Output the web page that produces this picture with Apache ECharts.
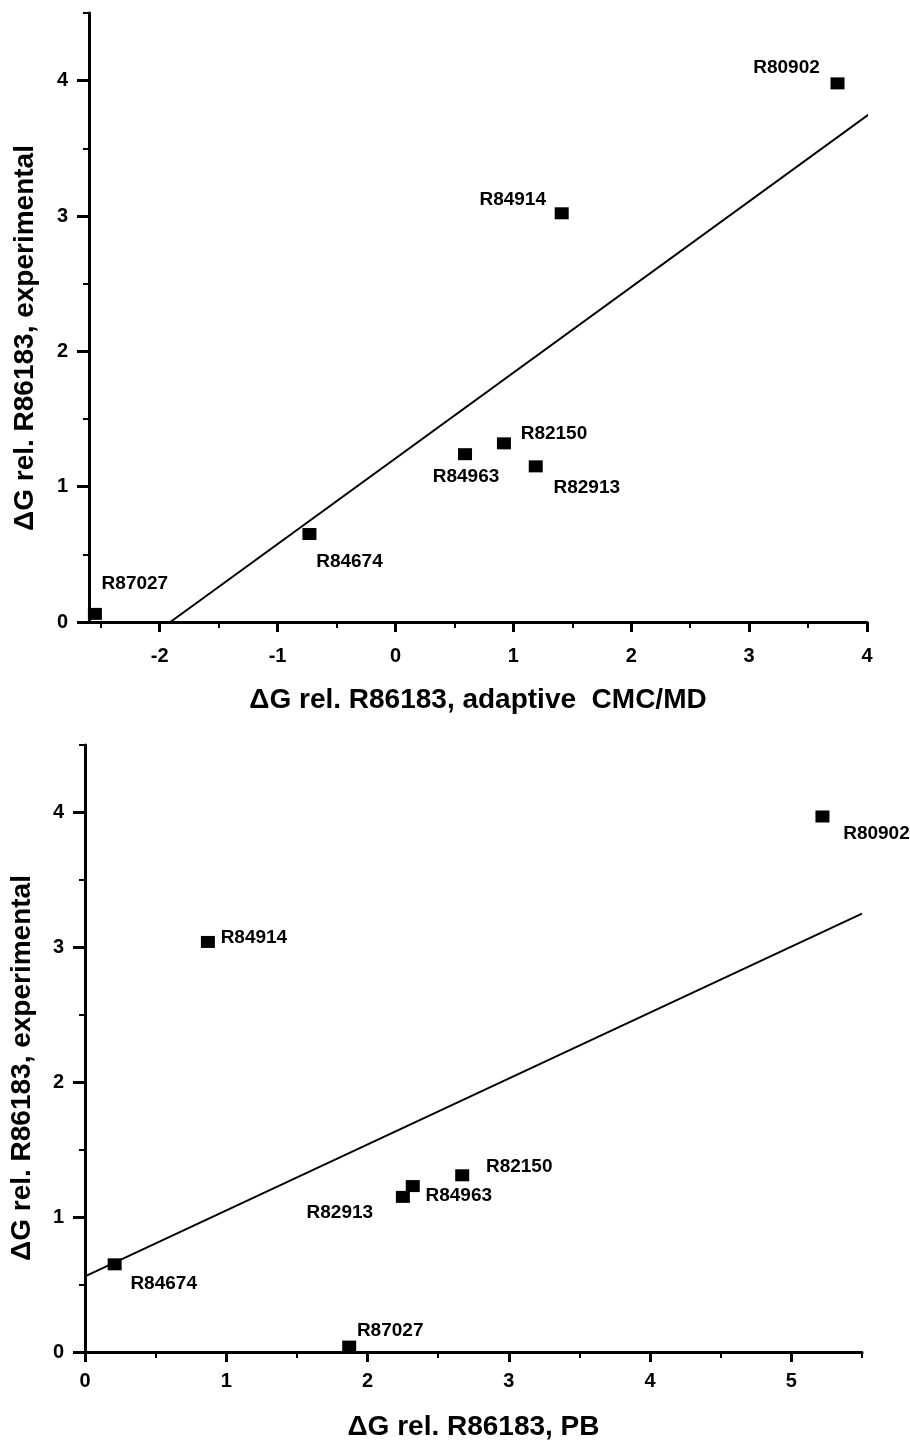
<!DOCTYPE html>
<html><head><meta charset="utf-8">
<script src="https://cdn.jsdelivr.net/npm/echarts@6/dist/echarts.min.js"></script>
<style>html,body{margin:0;padding:0;background:#fff}#c{width:910px;height:1445px}</style>
</head><body><div id="c"></div>
<script>
// ---- data ----
const compoundsTop = ['R80902','R84914','R82150','R84963','R82913','R84674','R87027'];
const xTop = [3.75, 1.41, 0.92, 0.59, 1.19, -0.73, -2.55];
const yTop = [3.98, 3.02, 1.32, 1.24, 1.15, 0.65, 0.06];
const fitTop = [[-1.91, 0], [4.03, 3.76]];

const compoundsBot = ['R80902','R84914','R82150','R84963','R82913','R84674','R87027'];
const xBot = [5.22, 0.87, 2.67, 2.32, 2.25, 0.21, 1.87];
const yBot = [3.97, 3.04, 1.31, 1.23, 1.15, 0.65, 0.04];
const fitBot = [[0, 0.56], [5.5, 3.25]];

const xTicksTop = [-2, -1, 0, 1, 2, 3, 4];
const xMinorTop = [-2.5, -1.5, -0.5, 0.5, 1.5, 2.5, 3.5];
const xTicksBot = [0, 1, 2, 3, 4, 5];
const xMinorBot = [0.5, 1.5, 2.5, 3.5, 4.5, 5.5];
const yTicks = [0, 1, 2, 3, 4];
const yMinor = [0.5, 1.5, 2.5, 3.5, 4.5];

const xTitleTop = 'ΔG rel. R86183, adaptive  CMC/MD';
const xTitleBot = 'ΔG rel. R86183, PB';
const yTitle = 'ΔG rel. R86183, experimental';

// label placement (offsets from point centre, px) — styling only
const labelOffTop = [[-51,-16],[-49,-14],[50,-10],[1,23],[51,21],[40,28],[40,-30]];
const labelOffBot = [[54,17],[46,-4],[57,-9],[46,10],[-63,16],[49,19],[41,-16]];

// ---- chart ----
const FONT = 'Liberation Sans, Arial, sans-serif';
const grids = [
  {left: 89, top: 13, width: 778, height: 609},
  {left: 85, top: 745, width: 777, height: 607}
];
function mkX(gi, min, max, ticks, name, gap, margin) {
  return {
    type: 'value', gridIndex: gi, min: min, max: max, position: 'bottom',
    name: name, nameLocation: 'middle', nameGap: gap,
    nameTextStyle: {fontFamily: FONT, fontWeight: 'bold', fontSize: 28, color: '#000'},
    axisLine: {show: true, onZero: false, lineStyle: {color: '#000', width: 3}},
    axisTick: {show: true, inside: false, length: 10, customValues: ticks, lineStyle: {color: '#000', width: 3}},
    axisLabel: {show: true, margin: margin, customValues: ticks, fontFamily: FONT, fontWeight: 'bold', fontSize: 20, color: '#000'},
    splitLine: {show: false}
  };
}
function mkXMinor(gi, min, max, ticks) {
  return {
    type: 'value', gridIndex: gi, min: min, max: max, position: 'bottom',
    axisLine: {show: false, onZero: false},
    axisTick: {show: true, length: 6, customValues: ticks, lineStyle: {color: '#000', width: 2}},
    axisLabel: {show: false}, splitLine: {show: false}
  };
}
function mkY(gi) {
  return {
    type: 'value', gridIndex: gi, min: 0, max: 4.5, position: 'left',
    axisLine: {show: true, onZero: false, lineStyle: {color: '#000', width: 3}},
    axisTick: {show: true, length: 12, customValues: yTicks, lineStyle: {color: '#000', width: 3}},
    axisLabel: {show: true, margin: 21, customValues: yTicks, fontFamily: FONT, fontWeight: 'bold', fontSize: 20, color: '#000'},
    splitLine: {show: false}
  };
}
function mkYMinor(gi) {
  return {
    type: 'value', gridIndex: gi, min: 0, max: 4.5, position: 'left',
    axisLine: {show: false, onZero: false},
    axisTick: {show: true, length: 6, customValues: yMinor, lineStyle: {color: '#000', width: 2}},
    axisLabel: {show: false}, splitLine: {show: false}
  };
}
function pts(names, xs, ys, offs) {
  return names.map((n, i) => ({
    name: n, value: [xs[i], ys[i]],
    label: {offset: offs[i]}
  }));
}
function scatter(xi, yi, data) {
  return {
    type: 'scatter', xAxisIndex: xi, yAxisIndex: yi, data: data,
    symbol: 'rect', symbolSize: [14, 12], itemStyle: {color: '#000', opacity: 1},
    label: {show: true, position: 'inside', align: 'center', verticalAlign: 'middle',
      formatter: p => p.name, fontFamily: FONT, fontWeight: 'bold', fontSize: 19, color: '#000', opacity: 1},
    emphasis: {disabled: true},
    z: 3
  };
}
function fit(xi, yi, data) {
  return {type: 'line', xAxisIndex: xi, yAxisIndex: yi, data: data, symbol: 'none',
    clip: false, lineStyle: {color: '#000', width: 2}, z: 2, silent: true};
}

const option = {
  backgroundColor: '#fff',
  animation: false,
  grid: grids,
  xAxis: [
    mkX(0, -2.6, 4, xTicksTop, xTitleTop, 64, 24),
    mkX(1, 0, 5.5, xTicksBot, xTitleBot, 61, 19),
    mkXMinor(0, -2.6, 4, xMinorTop),
    mkXMinor(1, 0, 5.5, xMinorBot)
  ],
  yAxis: [mkY(0), mkY(1), mkYMinor(0), mkYMinor(1)],
  series: [
    fit(0, 0, fitTop),
    scatter(0, 0, pts(compoundsTop, xTop, yTop, labelOffTop)),
    fit(1, 1, fitBot),
    scatter(1, 1, pts(compoundsBot, xBot, yBot, labelOffBot))
  ],
  graphic: [
    {type: 'text', x: 25, y: 338, rotation: Math.PI / 2,
      style: {text: yTitle, fontFamily: FONT, fontWeight: 'bold', fontSize: 28, fill: '#000', align: 'center', verticalAlign: 'middle'}},
    {type: 'text', x: 22, y: 1068, rotation: Math.PI / 2,
      style: {text: yTitle, fontFamily: FONT, fontWeight: 'bold', fontSize: 28, fill: '#000', align: 'center', verticalAlign: 'middle'}}
  ]
};
const chart = echarts.init(document.getElementById('c'), null, {renderer: 'canvas'});
chart.setOption(option);
</script>
</body></html>
